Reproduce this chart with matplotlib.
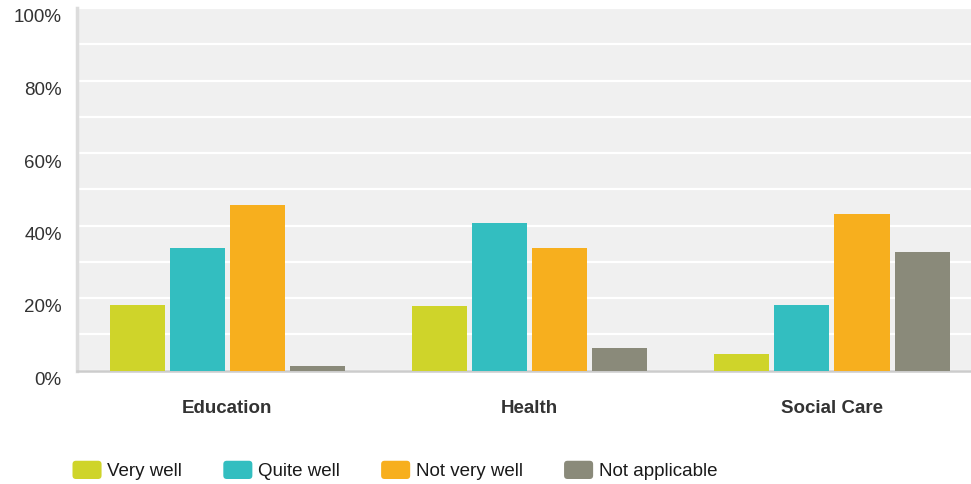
import numpy as np
import matplotlib
matplotlib.use('Agg')
import matplotlib.pyplot as plt
import matplotlib.transforms as mtransforms
from matplotlib.patches import Patch, FancyBboxPatch
from matplotlib.legend_handler import HandlerPatch

plt.rcParams['font.family'] = ['Liberation Sans', 'DejaVu Sans']

categories = ["Education", "Health", "Social Care"]
series = ["Very well", "Quite well", "Not very well", "Not applicable"]
very_well = [18.0, 17.8, 4.5]
quite_well = [33.7, 40.6, 18.0]
not_very_well = [45.6, 33.7, 43.1]
not_applicable = [1.2, 6.2, 32.6]
yticks = [0, 20, 40, 60, 80, 100]
ytick_labels = ["0%", "20%", "40%", "60%", "80%", "100%"]

colors = ["#cfd42a", "#33bec0", "#f7af1e", "#8a8a7a"]
values = [very_well, quite_well, not_very_well, not_applicable]


class RoundedHandler(HandlerPatch):
    def create_artists(self, legend, orig_handle, xdescent, ydescent,
                       width, height, fontsize, trans):
        p = FancyBboxPatch((-xdescent, -ydescent), width, height,
                           boxstyle="round,pad=0,rounding_size=2.5",
                           facecolor=orig_handle.get_facecolor(),
                           edgecolor='none', transform=trans)
        return [p]


fig = plt.figure(figsize=(9.71, 4.84), dpi=100)
ax = fig.add_axes([77/971, 113.5/484, 1 - 77/971, 362.5/484])
ax.set_facecolor("#f0f0f0")

x = np.arange(len(categories))
step = 0.199
width = 0.182
for i, (vals, col, name) in enumerate(zip(values, colors, series)):
    ax.bar(x + (i - 1.5)*step, vals, width, color=col, label=name, zorder=3)

ax.set_xlim(-0.497, 2.46)
ax.set_ylim(0, 100)
ax.set_yticks(np.arange(0, 101, 10), minor=True)
ax.set_yticks(yticks)
ax.set_yticklabels(ytick_labels, fontsize=13.5, color="#333333")
ax.grid(axis='y', which='both', color='white', linewidth=1.6, zorder=1)
ax.tick_params(axis='y', which='both', length=0, pad=11)
ax.set_xticks(x)
ax.set_xticklabels(categories, fontsize=13.5, fontweight='bold', color="#333333")
ax.tick_params(axis='x', length=0, pad=21)

# labels sit a little below their grid lines in the original
offset = mtransforms.ScaledTranslation(0, -8/100, fig.dpi_scale_trans)
for lab in ax.get_yticklabels():
    lab.set_transform(lab.get_transform() + offset)

for s in ['top', 'right']:
    ax.spines[s].set_visible(False)
ax.spines['left'].set_color("#dcdcdc")
ax.spines['left'].set_linewidth(2.5)
ax.spines['bottom'].set_color("#cccccc")
ax.spines['bottom'].set_linewidth(1.8)

handles = [Patch(facecolor=c, edgecolor='none') for c in colors]
fig.legend(handles, series, loc='center left', bbox_to_anchor=(72.5/971, 13.5/484),
           ncol=4, frameon=False, fontsize=13.5, borderpad=0, borderaxespad=0,
           handlelength=1.55, handleheight=1.12, handletextpad=0.3,
           columnspacing=2.2, labelcolor="#1a1a1a",
           handler_map={Patch: RoundedHandler()})

fig.savefig("out.png", dpi=100)
